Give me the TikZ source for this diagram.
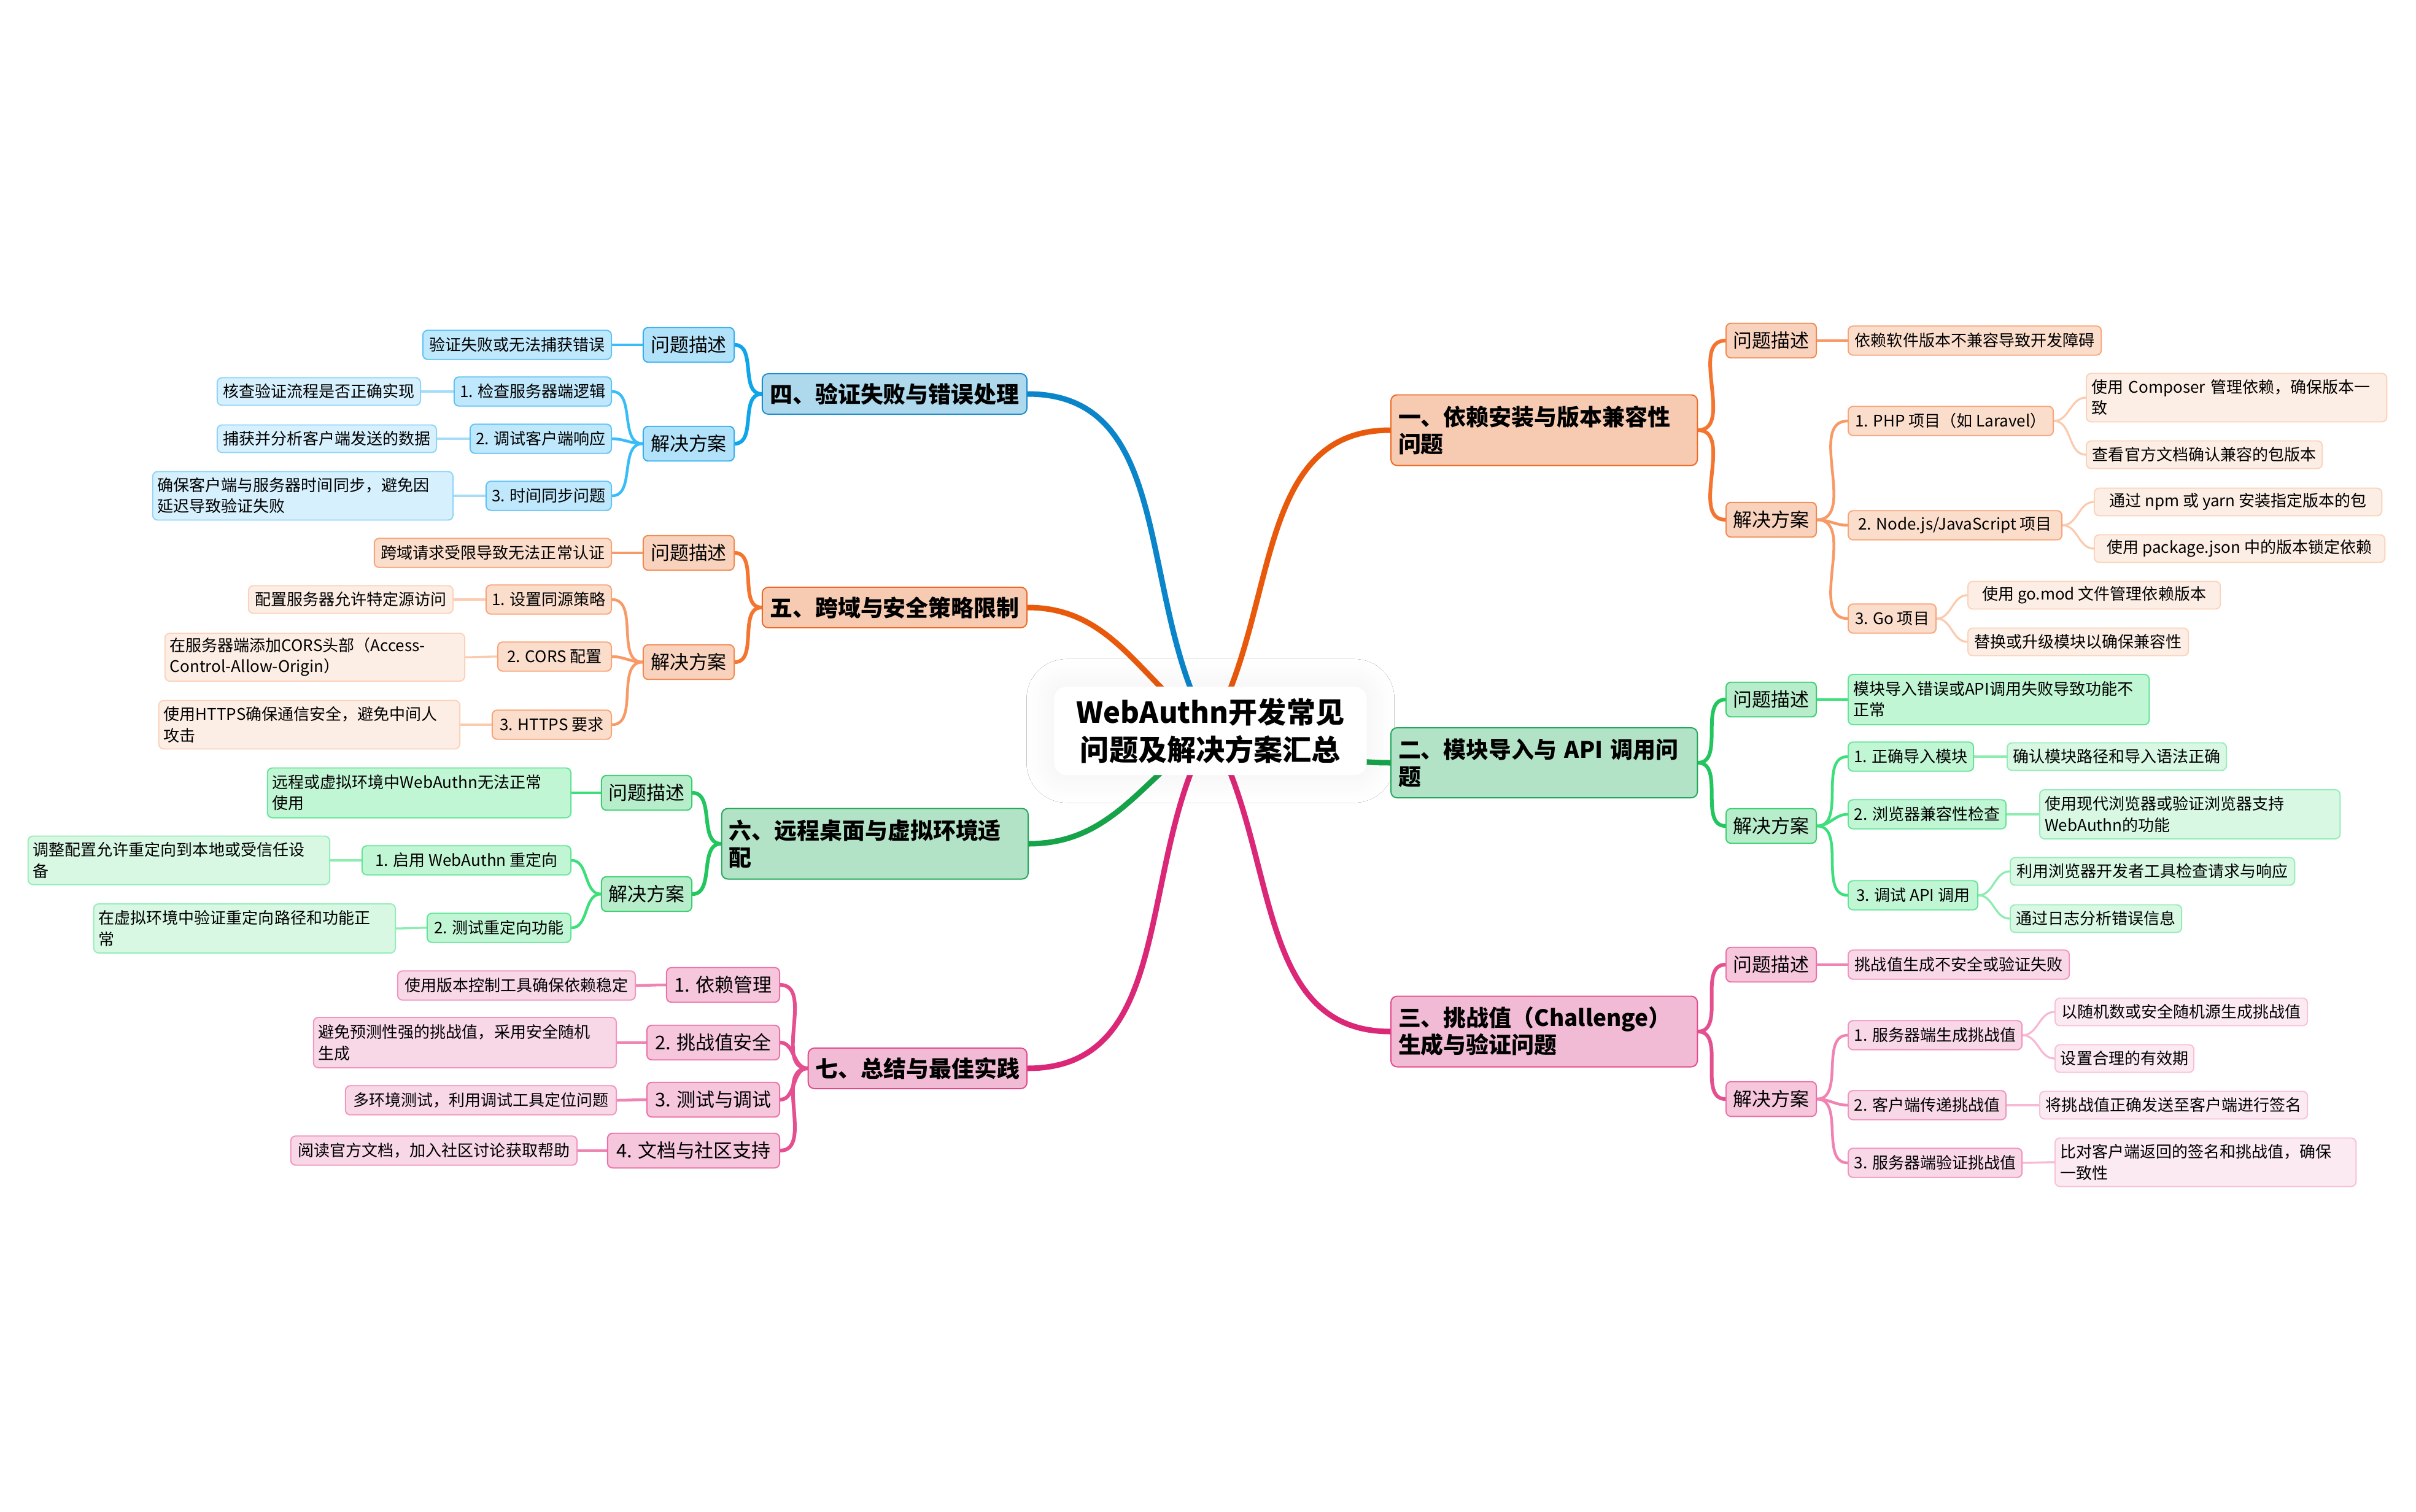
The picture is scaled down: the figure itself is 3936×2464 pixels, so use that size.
\documentclass[tikz,border=0pt]{standalone}
\usepackage{fontspec}
\setmainfont{Noto Sans CJK SC}
\usetikzlibrary{backgrounds,shadows.blur}
% orange
\definecolor{oC}{HTML}{E8590C}
\definecolor{o12}{HTML}{F47530}
\definecolor{o23}{HTML}{F89A68}
\definecolor{o34}{HTML}{FBCBB0}
\definecolor{o1f}{HTML}{F7CBB1}\definecolor{o1d}{HTML}{EE6A24}
\definecolor{o2f}{HTML}{F9D2BD}\definecolor{o2d}{HTML}{F3884E}
\definecolor{o3f}{HTML}{FBDDCC}\definecolor{o3d}{HTML}{F9A477}
\definecolor{o4f}{HTML}{FDEEE5}\definecolor{o4d}{HTML}{FBD2BA}
% green
\definecolor{gC}{HTML}{16A34A}
\definecolor{g12}{HTML}{22C55E}
\definecolor{g23}{HTML}{3DDE7C}
\definecolor{g34}{HTML}{8CEDB1}
\definecolor{g1f}{HTML}{B3E3C6}\definecolor{g1d}{HTML}{22A85A}
\definecolor{g2f}{HTML}{B7EDCB}\definecolor{g2d}{HTML}{38D06F}
\definecolor{g3f}{HTML}{C1F6D5}\definecolor{g3d}{HTML}{62E597}
\definecolor{g4f}{HTML}{D8F8E4}\definecolor{g4d}{HTML}{94EDB8}
% pink
\definecolor{pC}{HTML}{DB2777}
\definecolor{p12}{HTML}{E4508F}
\definecolor{p23}{HTML}{EF84B3}
\definecolor{p34}{HTML}{F6BAD4}
\definecolor{p1f}{HTML}{F2BBD5}\definecolor{p1d}{HTML}{E2498B}
\definecolor{p2f}{HTML}{F6C6DD}\definecolor{p2d}{HTML}{EC70A7}
\definecolor{p3f}{HTML}{F8D7E7}\definecolor{p3d}{HTML}{F194BF}
\definecolor{p4f}{HTML}{FCEAF2}\definecolor{p4d}{HTML}{F7C0D8}
% blue
\definecolor{bC}{HTML}{0A85C9}
\definecolor{b12}{HTML}{0EA5E9}
\definecolor{b23}{HTML}{38BDF8}
\definecolor{b34}{HTML}{A5DDF9}
\definecolor{b1f}{HTML}{AED8EC}\definecolor{b1d}{HTML}{1C8DCF}
\definecolor{b2f}{HTML}{B2E2FA}\definecolor{b2d}{HTML}{34B0F0}
\definecolor{b3f}{HTML}{C0E8FC}\definecolor{b3d}{HTML}{5EC3F6}
\definecolor{b4f}{HTML}{D7F0FD}\definecolor{b4d}{HTML}{90D4F8}
\begin{document}
\begin{tikzpicture}[x=0.01cm,y=0.01cm,
  box/.style={rounded corners=0.08cm, line width=0.55pt, inner xsep=0.08cm, inner ysep=0.03cm, align=left, text=black},
  lv1/.style={box, font=\fontsize{10.5}{12.5}\selectfont\bfseries, rounded corners=0.1cm, inner xsep=0.12cm, minimum height=0.66cm},
  lv2/.style={box, font=\fontsize{8.8}{10.5}\selectfont, inner xsep=0.1cm, minimum height=0.565cm},
  lv3/.style={box, font=\fontsize{7.4}{9.7}\selectfont, minimum height=0.475cm},
  lv4/.style={box, font=\fontsize{7.4}{9.7}\selectfont, minimum height=0.45cm},
  oL1/.style={lv1, fill=o1f, draw=o1d}, oL2/.style={lv2, fill=o2f, draw=o2d},
  oL3/.style={lv3, fill=o3f, draw=o3d}, oL4/.style={lv4, fill=o4f, draw=o4d},
  gL1/.style={lv1, fill=g1f, draw=g1d}, gL2/.style={lv2, fill=g2f, draw=g2d},
  gL3/.style={lv3, fill=g3f, draw=g3d}, gL4/.style={lv4, fill=g4f, draw=g4d},
  pL1/.style={lv1, fill=p1f, draw=p1d}, pL2/.style={lv2, fill=p2f, draw=p2d},
  pL3/.style={lv3, fill=p3f, draw=p3d}, pL4/.style={lv4, fill=p4f, draw=p4d},
  bL1/.style={lv1, fill=b1f, draw=b1d}, bL2/.style={lv2, fill=b2f, draw=b2d},
  bL3/.style={lv3, fill=b3f, draw=b3d}, bL4/.style={lv4, fill=b4f, draw=b4d},
  rt/.style={anchor=west}, lt/.style={anchor=east},
  ctrbox/.style={font=\fontsize{13.4}{17.4}\selectfont\bfseries, align=center, fill=white, rounded corners=0.2cm, minimum width=5.09cm, minimum height=1.44cm,
    blur shadow={shadow blur steps=20, shadow xshift=0pt, shadow yshift=0pt, shadow blur radius=0.45cm, shadow opacity=6}},
  cc/.style={line width=0.09cm, line cap=round},
  c12/.style={line width=0.06cm, line cap=round},
  c23/.style={line width=0.045cm, line cap=round},
  c34/.style={line width=0.033cm, line cap=round}
]
\useasboundingbox (0,0) rectangle (3936,-2464);
% ---------- center
\node[ctrbox] (c) at (1972,-1191) {WebAuthn开发常见\\问题及解决方案汇总};
% ---------- branch 1
\node[oL1, rt, minimum width=4.99cm, minimum height=1.15cm, text width=4.75cm] (n1) at (2265,-701) {一、依赖安装与版本兼容性\\问题};
\node[oL2, rt, minimum width=1.47cm] (n1q) at (2811,-555) {问题描述};
\node[oL3, rt, minimum width=4.12cm] (n1qa) at (3010,-555) {依赖软件版本不兼容导致开发障碍};
\node[oL2, rt, minimum width=1.47cm] (n1s) at (2811,-847) {解决方案};
\node[oL3, rt, minimum width=3.34cm] (n1s1) at (3010,-686) {1. PHP 项目（如 Laravel）};
\node[oL4, rt, minimum width=4.89cm, minimum height=0.79cm, text width=4.73cm] (n1s1a) at (3398,-648) {使用 Composer 管理依赖，确保版本一\\致};
\node[oL4, rt, minimum width=3.84cm] (n1s1b) at (3398,-741) {查看官方文档确认兼容的包版本};
\node[oL3, rt, minimum width=3.48cm] (n1s2) at (3010,-856) {2. Node.js/JavaScript 项目};
\node[oL4, rt, minimum width=4.68cm] (n1s2a) at (3411,-818) {通过 npm 或 yarn 安装指定版本的包};
\node[oL4, rt, minimum width=4.73cm] (n1s2b) at (3411,-894) {使用 package.json 中的版本锁定依赖};
\node[oL3, rt, minimum width=1.43cm] (n1s3) at (3010,-1008) {3. Go 项目};
\node[oL4, rt, minimum width=4.11cm] (n1s3a) at (3205,-970) {使用 go.mod 文件管理依赖版本};
\node[oL4, rt, minimum width=3.59cm] (n1s3b) at (3205,-1046) {替换或升级模块以确保兼容性};
% ---------- branch 2
\node[gL1, rt, minimum width=4.99cm, minimum height=1.14cm, text width=4.75cm] (n2) at (2265,-1243) {二、模块导入与 API 调用问\\题};
\node[gL2, rt, minimum width=1.47cm] (n2q) at (2811,-1140) {问题描述};
\node[gL3, rt, minimum width=4.90cm, minimum height=0.82cm, text width=4.74cm] (n2qa) at (3010,-1140) {模块导入错误或API调用失败导致功能不\\正常};
\node[gL2, rt, minimum width=1.47cm] (n2s) at (2811,-1346) {解决方案};
\node[gL3, rt, minimum width=2.04cm] (n2s1) at (3010,-1233) {1. 正确导入模块};
\node[gL4, rt, minimum width=3.57cm] (n2s1a) at (3269,-1233) {确认模块路径和导入语法正确};
\node[gL3, rt, minimum width=2.57cm] (n2s2) at (3010,-1327) {2. 浏览器兼容性检查};
\node[gL4, rt, minimum width=4.89cm, minimum height=0.80cm, text width=4.73cm] (n2s2a) at (3322,-1327) {使用现代浏览器或验证浏览器支持\\WebAuthn的功能};
\node[gL3, rt, minimum width=2.11cm] (n2s3) at (3010,-1459) {3. 调试 API 调用};
\node[gL4, rt, minimum width=4.63cm] (n2s3a) at (3274,-1420) {利用浏览器开发者工具检查请求与响应};
\node[gL4, rt, minimum width=2.79cm] (n2s3b) at (3274,-1497) {通过日志分析错误信息};
% ---------- branch 3
\node[pL1, rt, minimum width=4.99cm, minimum height=1.15cm, text width=4.75cm] (n3) at (2265,-1681) {三、挑战值（Challenge）\\生成与验证问题};
\node[pL2, rt, minimum width=1.47cm] (n3q) at (2811,-1572) {问题描述};
\node[pL3, rt, minimum width=3.60cm] (n3qa) at (3010,-1572) {挑战值生成不安全或验证失败};
\node[pL2, rt, minimum width=1.47cm] (n3s) at (2811,-1791) {解决方案};
\node[pL3, rt, minimum width=2.83cm] (n3s1) at (3010,-1687) {1. 服务器端生成挑战值};
\node[pL4, rt, minimum width=4.11cm] (n3s1a) at (3347,-1649) {以随机数或安全随机源生成挑战值};
\node[pL4, rt, minimum width=2.26cm] (n3s1b) at (3347,-1725) {设置合理的有效期};
\node[pL3, rt, minimum width=2.57cm] (n3s2) at (3010,-1801) {2. 客户端传递挑战值};
\node[pL4, rt, minimum width=4.36cm] (n3s2a) at (3322,-1801) {将挑战值正确发送至客户端进行签名};
\node[pL3, rt, minimum width=2.83cm] (n3s3) at (3010,-1895) {3. 服务器端验证挑战值};
\node[pL4, rt, minimum width=4.90cm, minimum height=0.79cm, text width=4.74cm] (n3s3a) at (3347,-1894) {比对客户端返回的签名和挑战值，确保\\一致性};
% ---------- branch 4
\node[bL1, lt, minimum width=4.31cm] (n4) at (1674,-642) {四、验证失败与错误处理};
\node[bL2, lt, minimum width=1.48cm] (n4q) at (1197,-562) {问题描述};
\node[bL3, lt, minimum width=3.07cm] (n4qa) at (997,-562) {验证失败或无法捕获错误};
\node[bL2, lt, minimum width=1.48cm] (n4s) at (1197,-723) {解决方案};
\node[bL3, lt, minimum width=2.56cm] (n4s1) at (997,-638) {1. 检查服务器端逻辑};
\node[bL4, lt, minimum width=3.31cm] (n4s1a) at (686,-638) {核查验证流程是否正确实现};
\node[bL3, lt, minimum width=2.30cm] (n4s2) at (997,-715) {2. 调试客户端响应};
\node[bL4, lt, minimum width=3.57cm] (n4s2a) at (712,-715) {捕获并分析客户端发送的数据};
\node[bL3, lt, minimum width=2.04cm] (n4s3) at (997,-808) {3. 时间同步问题};
\node[bL4, lt, minimum width=4.89cm, minimum height=0.79cm, text width=4.73cm] (n4s3a) at (739,-808) {确保客户端与服务器时间同步，避免因\\延迟导致验证失败};
% ---------- branch 5
\node[oL1, lt, minimum width=4.31cm] (n5) at (1674,-990) {五、跨域与安全策略限制};
\node[oL2, lt, minimum width=1.48cm] (n5q) at (1197,-901) {问题描述};
\node[oL3, lt, minimum width=3.86cm] (n5qa) at (997,-901) {跨域请求受限导致无法正常认证};
\node[oL2, lt, minimum width=1.48cm] (n5s) at (1197,-1079) {解决方案};
\node[oL3, lt, minimum width=2.04cm] (n5s1) at (997,-977) {1. 设置同源策略};
\node[oL4, lt, minimum width=3.33cm] (n5s1a) at (739,-977) {配置服务器允许特定源访问};
\node[oL3, lt, minimum width=1.85cm] (n5s2) at (997,-1070) {2. CORS 配置};
\node[oL4, lt, minimum width=4.88cm, minimum height=0.78cm, text width=4.72cm] (n5s2a) at (758,-1071) {在服务器端添加CORS头部（Access-\\Control-Allow-Origin）};
\node[oL3, lt, minimum width=1.94cm] (n5s3) at (997,-1181) {3. HTTPS 要求};
\node[oL4, lt, minimum width=4.90cm, minimum height=0.79cm, text width=4.74cm] (n5s3a) at (750,-1181) {使用HTTPS确保通信安全，避免中间人\\攻击};
% ---------- branch 6
\node[gL1, lt, minimum width=4.99cm, minimum height=1.15cm, text width=4.75cm] (n6) at (1676,-1375) {六、远程桌面与虚拟环境适\\配};
\node[gL2, lt, minimum width=1.47cm] (n6q) at (1128,-1292) {问题描述};
\node[gL3, lt, minimum width=4.94cm, minimum height=0.81cm, text width=4.78cm] (n6qa) at (931,-1292) {远程或虚拟环境中WebAuthn无法正常\\使用};
\node[gL2, lt, minimum width=1.47cm] (n6s) at (1128,-1457) {解决方案};
\node[gL3, lt, minimum width=3.40cm] (n6s1) at (931,-1402) {1. 启用 WebAuthn 重定向};
\node[gL4, lt, minimum width=4.91cm, minimum height=0.79cm, text width=4.75cm] (n6s1a) at (538,-1402) {调整配置允许重定向到本地或受信任设\\备};
\node[gL3, lt, minimum width=2.34cm] (n6s2) at (931,-1512) {2. 测试重定向功能};
\node[gL4, lt, minimum width=4.91cm, minimum height=0.80cm, text width=4.75cm] (n6s2a) at (645,-1513) {在虚拟环境中验证重定向路径和功能正\\常};
% ---------- branch 7
\node[pL1, lt, minimum width=3.56cm] (n7) at (1674,-1741) {七、总结与最佳实践};
\node[pL2, lt, minimum width=1.84cm] (n7a) at (1271,-1605) {1. 依赖管理};
\node[pL3, lt, minimum width=3.87cm] (n7aa) at (1036,-1606) {使用版本控制工具确保依赖稳定};
\node[pL2, lt, minimum width=2.16cm] (n7b) at (1271,-1699) {2. 挑战值安全};
\node[pL3, lt, minimum width=4.93cm, minimum height=0.82cm, text width=4.77cm] (n7ba) at (1005,-1699) {避免预测性强的挑战值，采用安全随机\\生成};
\node[pL2, lt, minimum width=2.16cm] (n7c) at (1271,-1792) {3. 测试与调试};
\node[pL3, lt, minimum width=4.41cm] (n7ca) at (1005,-1793) {多环境测试，利用调试工具定位问题};
\node[pL2, lt, minimum width=2.80cm] (n7d) at (1271,-1875) {4. 文档与社区支持};
\node[pL3, lt, minimum width=4.66cm] (n7da) at (941,-1875) {阅读官方文档，加入社区讨论获取帮助};
% ---------- connectors
\begin{scope}[on background layer]
\fill[white] (0,0) rectangle (3936,-2464);
% center
\draw[cc, oC] (c.center) to[out=60,in=180] (n1.west);
\draw[cc, gC] (c.center) to[out=-10,in=180] (n2.west);
\draw[cc, pC] (c.center) to[out=-60,in=180] (n3.west);
\draw[cc, bC] (c.center) to[out=120,in=0] (n4.east);
\draw[cc, oC] (c.center) to[out=145,in=0] (n5.east);
\draw[cc, gC] (c.center) to[out=215,in=0] (n6.east);
\draw[cc, pC] (c.center) to[out=240,in=0] (n7.east);
% branch 1
\draw[c12, o12] (n1.east) to[out=0,in=180] (n1q.west);
\draw[c12, o12] (n1.east) to[out=0,in=180] (n1s.west);
\draw[c23, o23] (n1q.east) to[out=0,in=180] (n1qa.west);
\draw[c23, o23] (n1s.east) to[out=0,in=180] (n1s1.west);
\draw[c23, o23] (n1s.east) to[out=0,in=180] (n1s2.west);
\draw[c23, o23] (n1s.east) to[out=0,in=180] (n1s3.west);
\draw[c34, o34] (n1s1.east) to[out=0,in=180] (n1s1a.west);
\draw[c34, o34] (n1s1.east) to[out=0,in=180] (n1s1b.west);
\draw[c34, o34] (n1s2.east) to[out=0,in=180] (n1s2a.west);
\draw[c34, o34] (n1s2.east) to[out=0,in=180] (n1s2b.west);
\draw[c34, o34] (n1s3.east) to[out=0,in=180] (n1s3a.west);
\draw[c34, o34] (n1s3.east) to[out=0,in=180] (n1s3b.west);
% branch 2
\draw[c12, g12] (n2.east) to[out=0,in=180] (n2q.west);
\draw[c12, g12] (n2.east) to[out=0,in=180] (n2s.west);
\draw[c23, g23] (n2q.east) to[out=0,in=180] (n2qa.west);
\draw[c23, g23] (n2s.east) to[out=0,in=180] (n2s1.west);
\draw[c23, g23] (n2s.east) to[out=0,in=180] (n2s2.west);
\draw[c23, g23] (n2s.east) to[out=0,in=180] (n2s3.west);
\draw[c34, g34] (n2s1.east) to[out=0,in=180] (n2s1a.west);
\draw[c34, g34] (n2s2.east) to[out=0,in=180] (n2s2a.west);
\draw[c34, g34] (n2s3.east) to[out=0,in=180] (n2s3a.west);
\draw[c34, g34] (n2s3.east) to[out=0,in=180] (n2s3b.west);
% branch 3
\draw[c12, p12] (n3.east) to[out=0,in=180] (n3q.west);
\draw[c12, p12] (n3.east) to[out=0,in=180] (n3s.west);
\draw[c23, p23] (n3q.east) to[out=0,in=180] (n3qa.west);
\draw[c23, p23] (n3s.east) to[out=0,in=180] (n3s1.west);
\draw[c23, p23] (n3s.east) to[out=0,in=180] (n3s2.west);
\draw[c23, p23] (n3s.east) to[out=0,in=180] (n3s3.west);
\draw[c34, p34] (n3s1.east) to[out=0,in=180] (n3s1a.west);
\draw[c34, p34] (n3s1.east) to[out=0,in=180] (n3s1b.west);
\draw[c34, p34] (n3s2.east) to[out=0,in=180] (n3s2a.west);
\draw[c34, p34] (n3s3.east) to[out=0,in=180] (n3s3a.west);
% branch 4
\draw[c12, b12] (n4.west) to[out=180,in=0] (n4q.east);
\draw[c12, b12] (n4.west) to[out=180,in=0] (n4s.east);
\draw[c23, b23] (n4q.west) to[out=180,in=0] (n4qa.east);
\draw[c23, b23] (n4s.west) to[out=180,in=0] (n4s1.east);
\draw[c23, b23] (n4s.west) to[out=180,in=0] (n4s2.east);
\draw[c23, b23] (n4s.west) to[out=180,in=0] (n4s3.east);
\draw[c34, b34] (n4s1.west) to[out=180,in=0] (n4s1a.east);
\draw[c34, b34] (n4s2.west) to[out=180,in=0] (n4s2a.east);
\draw[c34, b34] (n4s3.west) to[out=180,in=0] (n4s3a.east);
% branch 5
\draw[c12, o12] (n5.west) to[out=180,in=0] (n5q.east);
\draw[c12, o12] (n5.west) to[out=180,in=0] (n5s.east);
\draw[c23, o23] (n5q.west) to[out=180,in=0] (n5qa.east);
\draw[c23, o23] (n5s.west) to[out=180,in=0] (n5s1.east);
\draw[c23, o23] (n5s.west) to[out=180,in=0] (n5s2.east);
\draw[c23, o23] (n5s.west) to[out=180,in=0] (n5s3.east);
\draw[c34, o34] (n5s1.west) to[out=180,in=0] (n5s1a.east);
\draw[c34, o34] (n5s2.west) to[out=180,in=0] (n5s2a.east);
\draw[c34, o34] (n5s3.west) to[out=180,in=0] (n5s3a.east);
% branch 6
\draw[c12, g12] (n6.west) to[out=180,in=0] (n6q.east);
\draw[c12, g12] (n6.west) to[out=180,in=0] (n6s.east);
\draw[c23, g23] (n6q.west) to[out=180,in=0] (n6qa.east);
\draw[c23, g23] (n6s.west) to[out=180,in=0] (n6s1.east);
\draw[c23, g23] (n6s.west) to[out=180,in=0] (n6s2.east);
\draw[c34, g34] (n6s1.west) to[out=180,in=0] (n6s1a.east);
\draw[c34, g34] (n6s2.west) to[out=180,in=0] (n6s2a.east);
% branch 7
\draw[c12, p12] (n7.west) to[out=180,in=0] (n7a.east);
\draw[c12, p12] (n7.west) to[out=180,in=0] (n7b.east);
\draw[c12, p12] (n7.west) to[out=180,in=0] (n7c.east);
\draw[c12, p12] (n7.west) to[out=180,in=0] (n7d.east);
\draw[c23, p23] (n7a.west) to[out=180,in=0] (n7aa.east);
\draw[c23, p23] (n7b.west) to[out=180,in=0] (n7ba.east);
\draw[c23, p23] (n7c.west) to[out=180,in=0] (n7ca.east);
\draw[c23, p23] (n7d.west) to[out=180,in=0] (n7da.east);
\end{scope}
\end{tikzpicture}
\end{document}
